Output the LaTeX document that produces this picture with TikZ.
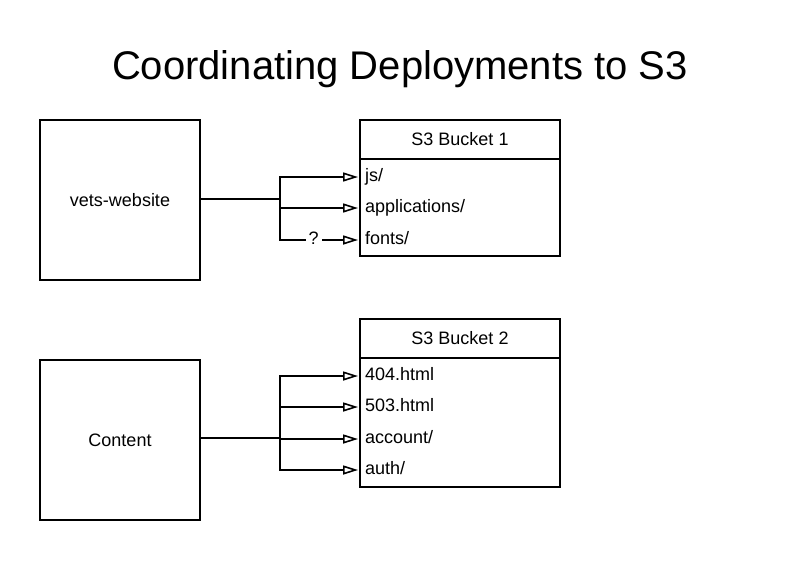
\documentclass[tikz,border=0pt]{standalone}
\usepackage{fontspec}
\setmainfont{Liberation Sans}
\usetikzlibrary{arrows.meta}
\begin{document}
\begin{tikzpicture}[x=1pt,y=-1pt,
  lw/.style={line width=1.6pt},
  bigbox/.style={draw,lw,minimum width=160pt,minimum height=160pt,inner sep=0pt,font=\fontsize{18}{20}\selectfont},
  hdr/.style={draw,lw,minimum width=200pt,inner sep=0pt,font=\fontsize{18}{20}\selectfont},
  row/.style={anchor=west,inner xsep=5pt,inner ysep=0pt,text height=12pt,text depth=4pt,font=\fontsize{18}{20}\selectfont},
  arr/.style={lw,shorten >=2pt,-{Triangle[open,length=15pt,width=9pt,line width=1.6pt]}},
  conn/.style={lw}]
\useasboundingbox (0,0) rectangle (800,560);
\node[font=\fontsize{40}{46}\selectfont] (title) at (400,69) {Coordinating Deployments to S3};
% left boxes
\node[bigbox] (vw) at (120,200) {vets-website};
\node[bigbox] (ct) at (120,440) {Content};
% bucket 1
\node[hdr,minimum height=39pt] (b1h) at (460,139.5) {S3 Bucket 1};
\node[draw,lw,minimum width=200pt,minimum height=97pt,inner sep=0pt] (b1b) at (460,207.5) {};
\node[row] (js) at (360,177) {js/};
\node[row] (app) at (360,208) {applications/};
\node[row] (fonts) at (360,240) {fonts/};
% bucket 2
\node[hdr,minimum height=39pt] (b2h) at (460,338.5) {S3 Bucket 2};
\node[draw,lw,minimum width=200pt,minimum height=129pt,inner sep=0pt] (b2b) at (460,422.5) {};
\node[row] (h404) at (360,376) {404.html};
\node[row] (h503) at (360,407) {503.html};
\node[row] (acc) at (360,439) {account/};
\node[row] (auth) at (360,470) {auth/};
% connectors bucket 1
\coordinate (s1) at (280,199);
\draw[conn] (vw.east |- s1) -- (s1);
\draw[arr] (s1) |- (js.west);
\draw[arr] (s1) |- (app.west);
\draw[arr] (s1) |- node[pos=0.71,fill=white,inner xsep=3pt,inner ysep=0pt,text height=4pt,text depth=0pt,font=\fontsize{18}{20}\selectfont] {\raisebox{-2pt}[4pt][0pt]{?}} (fonts.west);
% connectors bucket 2
\coordinate (s2) at (280,438);
\draw[conn] (ct.east |- s2) -- (s2);
\draw[arr] (s2) |- (h404.west);
\draw[arr] (s2) |- (h503.west);
\draw[arr] (s2) |- (acc.west);
\draw[arr] (s2) |- (auth.west);
\end{tikzpicture}
\end{document}
